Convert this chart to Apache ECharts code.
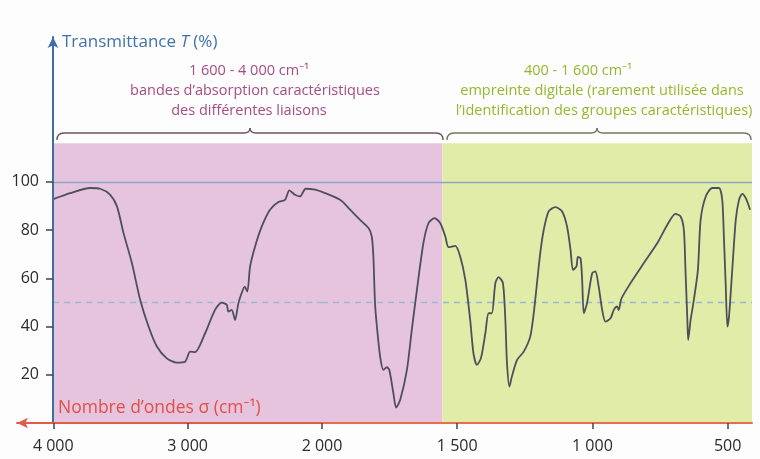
<!DOCTYPE html>
<html>
<head>
<meta charset="utf-8">
<script src="https://cdn.jsdelivr.net/npm/echarts@6/dist/echarts.min.js"></script>
<style>
html,body{margin:0;padding:0;background:#fdfdfd;}
#chart{width:760px;height:459px;}
</style>
</head>
<body>
<div id="chart"></div>
<script>
// Wavenumber (cm-1) and transmittance (%)
const waveNumbers = [4000,3874,3725,3651,3576,3526,3477,3415,3353,3291,3229,3155,3080,3019,2981,2944,2870,2796,2746,2709,2697,2672,2647,2622,2597,2575,2556,2535,2498,2448,2387,2325,2275,2243,2201,2164,2121,2052,2000,
1933,1896,1859,1828,1816,1810,1804,1797,1785,1773,1760,1751,1736,1726,1711,1686,1668,1649,1625,1606,1584,1563,1544,1532,1507,1489,1470,1452,1440,1427,1412,1396,1384,1372,1359,1347,1331,1322,1316,1307,1298,1279,1254,1230,1217,1205,1193,1180,1162,1137,1112,1094,1081,1072,1059,1054,1044,1038,1032,1020,1001,989,977,964,952,933,921,909,903,893,859,810,760,723,693,674,662,656,649,646,637,625,610,600,581,557,532,520,514,507,501,495,483,470,458,446,433,417];
const transmittance = [92.8,95.3,97.4,97.1,94.6,89.8,78.7,66.3,51.0,40.0,31.7,26.8,25.0,25.4,29.6,29.4,37.2,46.9,49.9,49.0,46.2,46.9,42.7,49.7,54.0,56.5,54.5,64.9,73.2,81.5,88.4,91.6,92.5,96.4,94.6,93.9,97.1,96.7,95.8,
92.5,88.4,84.2,80.8,77.3,69.0,49.7,40.0,27.5,22.0,23.1,22.0,12.3,6.4,9.5,22.0,38.6,55.2,74.6,82.9,84.9,82.9,77.3,72.9,73.4,69.0,59.3,42.7,28.9,24.1,27.0,37.2,45.5,45.5,58.0,60.5,58.0,42.7,24.8,15.1,19.2,26.1,29.6,35.8,45.5,58.0,70.4,80.1,87.7,89.5,87.7,81.5,71.8,63.5,64.9,68.8,68.3,59.3,45.5,49.7,62.1,62.8,56.6,46.9,42.0,43.4,46.9,48.3,46.8,51.5,58.0,66.3,74.6,82.2,86.7,85.6,80.1,63.5,42.7,34.4,42.7,51.0,63.5,84.2,93.9,97.4,97.4,92.5,77.3,56.6,40.0,44.1,63.5,84.2,92.5,95.0,93.2,88.4];
const xTicksLeft = [2000, 3000, 4000];
const xTicksRight = [500, 1000, 1500];
const yTicks = [20, 40, 60, 80, 100];
const zoneBoundary = 1555;   // limit between the two zones as drawn
const zoneTop = 116;

const pts = waveNumbers.map((w, i) => [w, transmittance[i]]);
const leftData = pts.filter(p => p[0] >= 2000);
const rightData = pts.filter(p => p[0] <= 2000);

const fmtNum = v => v >= 1000 ? String(v).replace(/(\d)(\d{3})$/, '$1 $2') : String(v);
const font = '"Open Sans", "Noto Sans", sans-serif';
const lineColor = '#4d4f5c';
const ref100 = {lineStyle: {color: '#8ba6c6', width: 1.3, type: 'solid'}};
const ref50 = {lineStyle: {color: '#9db7d6', width: 1.3, type: [6, 5]}};

// curly brace decoration made of line and bezier pieces
function brace(x1, xm, x2, y, color) {
  const st = {fill: 'none', stroke: color, lineWidth: 1.4};
  return [
    {type: 'bezierCurve', z: 10, silent: true, shape: {x1: x1, y1: y + 7, x2: x1 + 7, y2: y, cpx1: x1, cpy1: y}, style: st},
    {type: 'line', z: 10, silent: true, shape: {x1: x1 + 7, y1: y, x2: xm - 6, y2: y}, style: st},
    {type: 'bezierCurve', z: 10, silent: true, shape: {x1: xm - 6, y1: y, x2: xm, y2: y - 5, cpx1: xm, cpy1: y}, style: st},
    {type: 'bezierCurve', z: 10, silent: true, shape: {x1: xm, y1: y - 5, x2: xm + 6, y2: y, cpx1: xm, cpy1: y}, style: st},
    {type: 'line', z: 10, silent: true, shape: {x1: xm + 6, y1: y, x2: x2 - 7, y2: y}, style: st},
    {type: 'bezierCurve', z: 10, silent: true, shape: {x1: x2 - 7, y1: y, x2: x2, y2: y + 7, cpx1: x2, cpy1: y}, style: st}
  ];
}

const tickLabel = {formatter: fmtNum, color: '#2b2b2b', fontSize: 16, fontFamily: font, margin: 15};

const chart = echarts.init(document.getElementById('chart'), null, {renderer: 'canvas'});
chart.setOption({
  backgroundColor: '#fdfdfd',
  animation: false,
  grid: [
    {left: 17, width: 305, top: 37, bottom: 36},
    {left: 322, right: 8, top: 37, bottom: 36}
  ],
  xAxis: [
    {
      type: 'value', gridIndex: 0, min: 2000, max: 4270, inverse: true, z: 10,
      axisLine: {show: true, lineStyle: {color: '#e25a4c', width: 2}, symbol: ['arrow', 'none'], symbolSize: [8, 11]},
      axisTick: {show: true, length: 6, lineStyle: {color: '#444', width: 1.5}, customValues: xTicksLeft},
      axisLabel: {...tickLabel, customValues: xTicksLeft},
      splitLine: {show: false}
    },
    {
      type: 'value', gridIndex: 1, min: 410, max: 2000, inverse: true, z: 10,
      axisLine: {show: true, lineStyle: {color: '#ec6a50', width: 2}},
      axisTick: {show: true, length: 6, lineStyle: {color: '#444', width: 1.5}, customValues: xTicksRight},
      axisLabel: {...tickLabel, customValues: xTicksRight},
      splitLine: {show: false}
    }
  ],
  yAxis: [
    {
      type: 'value', gridIndex: 0, min: 0, max: 160, interval: 20, offset: -36, z: 10,
      axisLine: {show: true, lineStyle: {color: '#3d6fa6', width: 2}, symbol: ['none', 'arrow'], symbolSize: [8, 11]},
      axisTick: {show: true, length: 7, inside: false, lineStyle: {color: '#444', width: 1.5}, customValues: yTicks},
      axisLabel: {customValues: yTicks, formatter: v => (v > 0 && v <= 100) ? String(v) : '', color: '#2b2b2b', fontSize: 16, fontFamily: font, margin: 14},
      splitLine: {show: false}
    },
    {type: 'value', gridIndex: 1, min: 0, max: 160, show: false}
  ],
  series: [
    {
      type: 'line', xAxisIndex: 0, yAxisIndex: 0, data: leftData, showSymbol: false, smooth: 0.25,
      lineStyle: {color: lineColor, width: 1.8}, z: 5,
      markArea: {silent: true, itemStyle: {color: '#e7c4dd'}, data: [[{xAxis: 4000, yAxis: 0}, {xAxis: 2000, yAxis: zoneTop}]]},
      markLine: {silent: true, symbol: 'none', label: {show: false}, data: [
        [{coord: [4000, 100], ...ref100}, {coord: [2000, 100]}],
        [{coord: [4000, 50], ...ref50}, {coord: [2000, 50]}]
      ]}
    },
    {
      type: 'line', xAxisIndex: 1, yAxisIndex: 1, data: rightData, showSymbol: false, smooth: 0.25,
      lineStyle: {color: lineColor, width: 1.8}, z: 5,
      markArea: {silent: true, data: [
        [{xAxis: 2000, yAxis: 0, itemStyle: {color: '#e7c4dd'}}, {xAxis: zoneBoundary, yAxis: zoneTop}],
        [{xAxis: zoneBoundary, yAxis: 0, itemStyle: {color: '#e1eca9'}}, {xAxis: 410, yAxis: zoneTop}]
      ]},
      markLine: {silent: true, symbol: 'none', label: {show: false}, data: [
        [{coord: [2000, 100], ...ref100}, {coord: [410, 100]}],
        [{coord: [2000, 50], ...ref50}, {coord: [410, 50]}]
      ]}
    }
  ],
  graphic: [
    {type: 'text', x: 62, y: 42, z: 10, style: {
      text: '{a|Transmittance }{b|T}{a| (%)}', verticalAlign: 'middle',
      rich: {a: {fontSize: 17, fontFamily: font, fill: '#3f72aa'}, b: {fontSize: 17, fontFamily: font, fontStyle: 'italic', fill: '#3f72aa'}}
    }},
    {type: 'text', x: 249, y: 71, z: 10, style: {text: '1 600 - 4 000 cm⁻¹', fontSize: 14.5, fontFamily: font, fill: '#a64d86', align: 'center', verticalAlign: 'middle'}},
    {type: 'text', x: 255, y: 91, z: 10, style: {text: 'bandes d\u2019absorption caractéristiques', fontSize: 14.5, fontFamily: font, fill: '#a64d86', align: 'center', verticalAlign: 'middle'}},
    {type: 'text', x: 249, y: 111, z: 10, style: {text: 'des différentes liaisons', fontSize: 14.5, fontFamily: font, fill: '#a64d86', align: 'center', verticalAlign: 'middle'}},
    {type: 'text', x: 578, y: 71, z: 10, style: {text: '400 - 1 600 cm⁻¹', fontSize: 14.5, fontFamily: font, fill: '#94b82c', align: 'center', verticalAlign: 'middle'}},
    {type: 'text', x: 602, y: 91, z: 10, style: {text: 'empreinte digitale (rarement utilisée dans', fontSize: 14.5, fontFamily: font, fill: '#94b82c', align: 'center', verticalAlign: 'middle'}},
    {type: 'text', x: 604, y: 111, z: 10, style: {text: 'l\u2019identification des groupes caractéristiques)', fontSize: 14.5, fontFamily: font, fill: '#94b82c', align: 'center', verticalAlign: 'middle'}},
    ...brace(57, 250, 443, 133, '#6d5466'),
    ...brace(447, 597, 751, 133, '#6f7a5a'),
    {type: 'text', x: 58, y: 408, z: 10, style: {text: 'Nombre d\u2019ondes σ (cm⁻¹)', fontSize: 17.5, fontFamily: font, fill: '#e0504a', verticalAlign: 'middle'}}
  ]
});
</script>
</body>
</html>
